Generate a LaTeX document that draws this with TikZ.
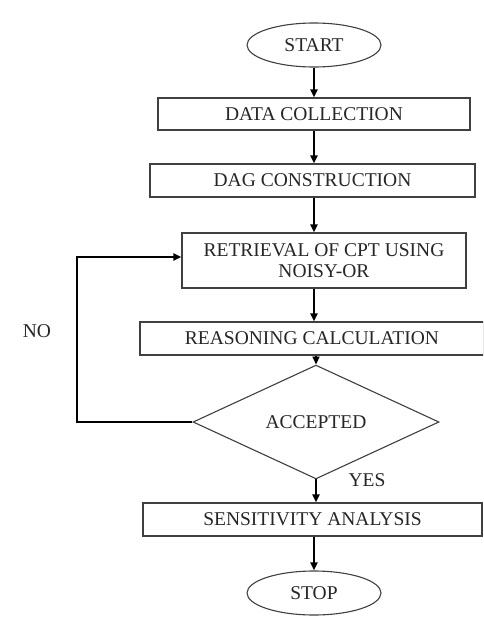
\documentclass[tikz,border=0pt]{standalone}
\usepackage{fontspec}
\setmainfont{Liberation Serif}
\usetikzlibrary{shapes.geometric,arrows.meta}
\begin{document}
\begin{tikzpicture}[x=1pt,y=-1pt,
  txt/.style={font=\fontsize{19.5}{21}\selectfont, text=black!85},
  stepbox/.style={draw=black!75, line width=1.1pt, rectangle, inner sep=0pt, txt, align=center},
  term/.style={draw=black!75, line width=1.1pt, ellipse, inner sep=0pt, minimum width=134pt, minimum height=44pt, txt},
  decide/.style={draw=black!75, line width=1.1pt, diamond, inner sep=0pt, minimum width=246pt, minimum height=72pt, txt},
  arr/.style={draw=black, line width=2pt, -{Triangle[length=8pt,width=7pt]}}]
\useasboundingbox (0,0) rectangle (483,621);
\clip (0,0) rectangle (483,621);
\fill[white] (0,0) rectangle (483,621);
\node[term] (start) at (314,45) {START};
\node[stepbox, minimum width=312pt, minimum height=32pt] (data) at (314,114) {DATA COLLECTION};
\node[stepbox, minimum width=325pt, minimum height=33pt] (dag) at (312.5,180.5) {DAG CONSTRUCTION};
\node[stepbox, minimum width=284pt, minimum height=55pt] (retr) at (324,260.5) {RETRIEVAL OF CPT USING\\NOISY-OR};
\node[stepbox, minimum width=344pt, minimum height=33pt] (reas) at (312,338.5) {REASONING CALCULATION};
\node[decide] (dec) at (316,422) {ACCEPTED};
\node[stepbox, minimum width=339pt, minimum height=33pt] (sens) at (312.5,519.5) {SENSITIVITY ANALYSIS};
\node[term] (stop) at (314,593) {STOP};
\node[txt] (no) at (37,331) {NO};
\node[txt] (yes) at (367,480) {YES};
\coordinate (c1) at (77,422);
\coordinate (c2) at (77,257);
\draw[arr] (start.south) -- (start.south |- data.north);
\draw[arr] (data.south -| start) -- (dag.north -| start);
\draw[arr] (dag.south -| start) -- (retr.north -| start);
\draw[arr] (retr.south -| start) -- (reas.north -| start);
\draw[arr] (reas.south -| dec) -- (dec.north);
\draw[arr] (dec.south) -- (sens.north -| dec);
\draw[arr] (sens.south -| start) -- (stop.north);
\draw[arr] (dec.west) -- (c1) -- (c2) -- (c2 -| retr.west);
\end{tikzpicture}
\end{document}
